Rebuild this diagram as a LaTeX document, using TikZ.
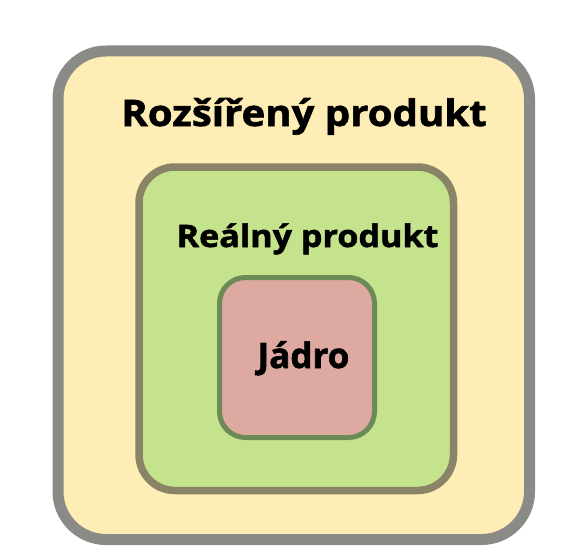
\documentclass[tikz,border=0pt]{standalone}
\usepackage{fontspec}
\setmainfont{Open Sans}
% heavy, slightly widened face for the layer titles
\newfontfamily\heavywide{Open Sans}[UprightFont=* Bold, FakeBold=1.6, FakeStretch=1.1]
\newfontfamily\heavyfont{Open Sans}[UprightFont=* Bold, FakeBold=1.6]
\definecolor{outerfill}{HTML}{FEEDB4}
\definecolor{outerline}{HTML}{8A8A87}
\definecolor{midfill}{HTML}{C5E38D}
\definecolor{midline}{HTML}{8A8466}
\definecolor{innerfill}{HTML}{DDA9A1}
\definecolor{innerline}{HTML}{6B8A55}
\tikzset{
  layer/.style={rounded corners=#1},
  lbl/.style={anchor=base, inner sep=0pt}
}
\begin{document}
\begin{tikzpicture}[x=1pt, y=-1pt]
  \useasboundingbox[fill=white] (0,0) rectangle (561,559);
  % outer layer
  \draw[layer=48, fill=outerfill, draw=outerline, line width=11pt] (58,51) rectangle (529.5,539.5);
  % middle layer
  \draw[layer=36, fill=midfill, draw=midline, line width=7.5pt] (139,167) rectangle (453.5,490.5);
  % core
  \draw[layer=26, fill=innerfill, draw=innerline, line width=5pt] (219.5,277.5) rectangle (374.5,437.5);
  \node[lbl, font=\fontsize{36.5}{42}\selectfont\heavywide] (rozs) at (304,126) {Rozšířený produkt};
  \node[lbl, font=\fontsize{31}{36}\selectfont\heavywide] (real) at (307.5,247) {Reálný produkt};
  \node[lbl, font=\fontsize{35}{40}\selectfont\heavyfont] (jadro) at (303.5,368) {Jádro};
\end{tikzpicture}
\end{document}
